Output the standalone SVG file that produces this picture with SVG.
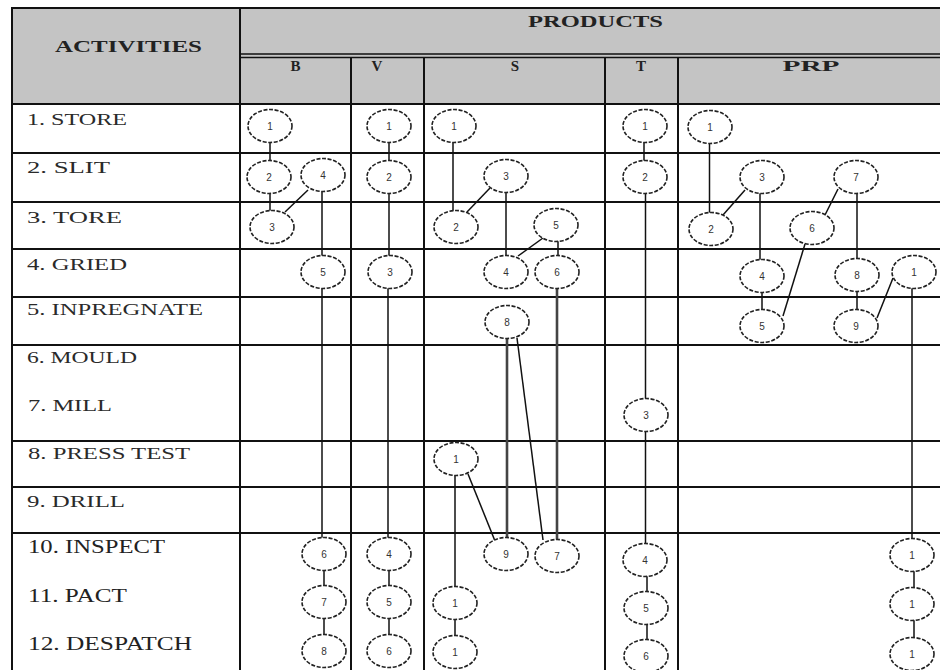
<svg xmlns="http://www.w3.org/2000/svg" width="940" height="670" viewBox="0 0 940 670">
<style>
.grid{stroke:#111;stroke-width:2;fill:none}
.thin{stroke:#111;stroke-width:1.3;fill:none}
.hdr{font-family:"Liberation Serif","Times New Roman",serif;font-weight:bold;fill:#222}
.act{font-family:"Liberation Serif","Times New Roman",serif;fill:#2a2a2a;font-size:16px}
.actb{font-family:"Liberation Serif","Times New Roman",serif;fill:#222;font-size:19px}
.node ellipse{fill:#fff;stroke:#222;stroke-width:1.6;stroke-dasharray:4 1.6}
.node text{font-family:"Liberation Sans",Arial,sans-serif;font-size:10px;fill:#333;text-anchor:middle}
.conn line{stroke:#111;stroke-width:1.5}
.conn line.dbl{stroke:#444;stroke-width:2.6}
</style>
<rect x="0" y="0" width="940" height="670" fill="#fff"/>
<rect x="12" y="8" width="928" height="96" fill="#c4c4c4"/>
<g id="table">
<line class="grid" x1="12" y1="8" x2="940" y2="8"/>
<line class="grid" x1="12" y1="7" x2="12" y2="670"/>
<line class="grid" x1="240" y1="8" x2="240" y2="670"/>
<line class="thin" x1="240" y1="54" x2="940" y2="54"/>
<line class="thin" x1="240" y1="57.5" x2="940" y2="57.5"/>
<line class="grid" x1="12" y1="104" x2="940" y2="104"/>
<line class="grid" x1="351" y1="57" x2="351" y2="670"/>
<line class="grid" x1="424" y1="57" x2="424" y2="670"/>
<line class="grid" x1="605" y1="57" x2="605" y2="670"/>
<line class="grid" x1="678" y1="57" x2="678" y2="670"/>
<line class="grid" x1="12" y1="153" x2="940" y2="153"/>
<line class="grid" x1="12" y1="202" x2="940" y2="202"/>
<line class="grid" x1="12" y1="249" x2="940" y2="249"/>
<line class="grid" x1="12" y1="297" x2="940" y2="297"/>
<line class="grid" x1="12" y1="345" x2="940" y2="345"/>
<line class="grid" x1="12" y1="441" x2="940" y2="441"/>
<line class="grid" x1="12" y1="487" x2="940" y2="487"/>
<line class="grid" x1="12" y1="533" x2="940" y2="533"/>
</g>
<g id="headers">
<text class="hdr" x="55" y="52" font-size="17" textLength="147" lengthAdjust="spacingAndGlyphs">ACTIVITIES</text>
<text class="hdr" x="528" y="27" font-size="17" textLength="135" lengthAdjust="spacingAndGlyphs">PRODUCTS</text>
<text class="hdr" x="295.5" y="71" font-size="15" text-anchor="middle">B</text>
<text class="hdr" x="377" y="71" font-size="15" text-anchor="middle">V</text>
<text class="hdr" x="515" y="71" font-size="15" text-anchor="middle">S</text>
<text class="hdr" x="641" y="71" font-size="15" text-anchor="middle">T</text>
<text class="hdr" x="811" y="71" font-size="15" text-anchor="middle" textLength="57" lengthAdjust="spacingAndGlyphs">PRP</text>
</g>
<g id="activities">
<text class="act" x="27" y="125" textLength="100" lengthAdjust="spacingAndGlyphs">1. STORE</text>
<text class="act" x="27" y="173" textLength="83" lengthAdjust="spacingAndGlyphs">2. SLIT</text>
<text class="act" x="27" y="223" textLength="95" lengthAdjust="spacingAndGlyphs">3. TORE</text>
<text class="act" x="27" y="270" textLength="100" lengthAdjust="spacingAndGlyphs">4. GRIED</text>
<text class="act" x="27" y="315" textLength="176" lengthAdjust="spacingAndGlyphs">5. INPREGNATE</text>
<text class="act" x="27" y="363" textLength="110" lengthAdjust="spacingAndGlyphs">6. MOULD</text>
<text class="act" x="28" y="411" textLength="84" lengthAdjust="spacingAndGlyphs">7. MILL</text>
<text class="act" x="28" y="459" textLength="162" lengthAdjust="spacingAndGlyphs">8. PRESS TEST</text>
<text class="act" x="27" y="507" textLength="98" lengthAdjust="spacingAndGlyphs">9. DRILL</text>
<text class="actb" x="28" y="553" textLength="137" lengthAdjust="spacingAndGlyphs">10. INSPECT</text>
<text class="actb" x="28" y="602" textLength="99" lengthAdjust="spacingAndGlyphs">11. PACT</text>
<text class="actb" x="28" y="650" textLength="164" lengthAdjust="spacingAndGlyphs">12. DESPATCH</text>
</g>
<g id="connectors" class="conn">
<line x1="270" y1="142" x2="270" y2="161"/>
<line x1="270" y1="193" x2="270" y2="211"/>
<line x1="308" y1="190" x2="285" y2="212"/>
<line x1="322" y1="191" x2="322" y2="256"/>
<line x1="322" y1="288" x2="322" y2="538"/>
<line x1="324" y1="570" x2="324" y2="586"/>
<line x1="324" y1="618" x2="324" y2="635"/>
<line x1="389" y1="142" x2="389" y2="161"/>
<line x1="389" y1="193" x2="389" y2="256"/>
<line x1="388" y1="288" x2="388" y2="538"/>
<line x1="389" y1="570" x2="389" y2="586"/>
<line x1="389" y1="618" x2="389" y2="635"/>
<line x1="453" y1="142" x2="453" y2="211"/>
<line x1="490" y1="188" x2="467" y2="212"/>
<line x1="506" y1="192" x2="506" y2="256"/>
<line x1="543" y1="238" x2="518" y2="256"/>
<line x1="558" y1="241" x2="558" y2="256"/>
<line class="dbl" x1="557" y1="288" x2="557" y2="540"/>
<line class="dbl" x1="507" y1="338" x2="507" y2="538"/>
<line x1="517" y1="338" x2="543" y2="540"/>
<line x1="455" y1="475" x2="455" y2="587"/>
<line x1="468" y1="474" x2="495" y2="541"/>
<line x1="455" y1="619" x2="455" y2="636"/>
<line x1="644" y1="142" x2="644" y2="161"/>
<line x1="645.5" y1="193" x2="645.5" y2="400"/>
<line x1="645.5" y1="431" x2="645.5" y2="544"/>
<line x1="647" y1="576" x2="647" y2="592"/>
<line x1="647" y1="624" x2="647" y2="640"/>
<line x1="709.5" y1="143" x2="709.5" y2="213"/>
<line x1="745" y1="190" x2="723" y2="215"/>
<line x1="760" y1="193" x2="760" y2="260"/>
<line x1="762" y1="292" x2="762" y2="310"/>
<line x1="838" y1="189" x2="825" y2="215"/>
<line x1="805" y1="244" x2="783" y2="316"/>
<line x1="857" y1="193" x2="857" y2="259"/>
<line x1="857" y1="291" x2="857" y2="310"/>
<line x1="893" y1="278" x2="877" y2="318"/>
<line x1="912" y1="288" x2="912" y2="539"/>
<line x1="914" y1="571" x2="914" y2="588"/>
<line x1="914" y1="620" x2="914" y2="638"/>
</g>
<g id="B1" class="node"><ellipse cx="270" cy="126" rx="22" ry="16.5"/><text x="270" y="130">1</text></g>
<g id="B2" class="node"><ellipse cx="269" cy="177" rx="22" ry="16.5"/><text x="269" y="181">2</text></g>
<g id="B3" class="node"><ellipse cx="272" cy="227" rx="22" ry="16.5"/><text x="272" y="231">3</text></g>
<g id="B4" class="node"><ellipse cx="323" cy="175" rx="22" ry="16.5"/><text x="323" y="179" fill="#888">4</text></g>
<g id="B5" class="node"><ellipse cx="323" cy="272" rx="22" ry="16.5"/><text x="323" y="276">5</text></g>
<g id="B6" class="node"><ellipse cx="324" cy="554" rx="22" ry="16.5"/><text x="324" y="558">6</text></g>
<g id="B7" class="node"><ellipse cx="324" cy="602" rx="22" ry="16.5"/><text x="324" y="606">7</text></g>
<g id="B8" class="node"><ellipse cx="324" cy="651" rx="22" ry="16.5"/><text x="324" y="655">8</text></g>
<g id="V1" class="node"><ellipse cx="389" cy="126" rx="22" ry="16.5"/><text x="389" y="130">1</text></g>
<g id="V2" class="node"><ellipse cx="389" cy="177" rx="22" ry="16.5"/><text x="389" y="181">2</text></g>
<g id="V3" class="node"><ellipse cx="390" cy="272" rx="22" ry="16.5"/><text x="390" y="276">3</text></g>
<g id="V4" class="node"><ellipse cx="389" cy="554" rx="22" ry="16.5"/><text x="389" y="558">4</text></g>
<g id="V5" class="node"><ellipse cx="389" cy="602" rx="22" ry="16.5"/><text x="389" y="606">5</text></g>
<g id="V6" class="node"><ellipse cx="389" cy="651" rx="22" ry="16.5"/><text x="389" y="655">6</text></g>
<g id="S1" class="node"><ellipse cx="454" cy="126" rx="22" ry="16.5"/><text x="454" y="130">1</text></g>
<g id="S3" class="node"><ellipse cx="506" cy="176" rx="22" ry="16.5"/><text x="506" y="180">3</text></g>
<g id="S2" class="node"><ellipse cx="456" cy="227" rx="22" ry="16.5"/><text x="456" y="231">2</text></g>
<g id="S5" class="node"><ellipse cx="556" cy="225" rx="22" ry="16.5"/><text x="556" y="229">5</text></g>
<g id="S4" class="node"><ellipse cx="506" cy="272" rx="22" ry="16.5"/><text x="506" y="276">4</text></g>
<g id="S6" class="node"><ellipse cx="557" cy="272" rx="22" ry="16.5"/><text x="557" y="276">6</text></g>
<g id="S8" class="node"><ellipse cx="507" cy="322" rx="22" ry="16.5"/><text x="507" y="326">8</text></g>
<g id="S_PT1" class="node"><ellipse cx="456" cy="459" rx="22" ry="16.5"/><text x="456" y="463">1</text></g>
<g id="S9" class="node"><ellipse cx="506" cy="554" rx="22" ry="16.5"/><text x="506" y="558">9</text></g>
<g id="S7" class="node"><ellipse cx="557" cy="556" rx="22" ry="16.5"/><text x="557" y="560">7</text></g>
<g id="S_PA1" class="node"><ellipse cx="455" cy="603" rx="22" ry="16.5"/><text x="455" y="607">1</text></g>
<g id="S_DE1" class="node"><ellipse cx="455" cy="652" rx="22" ry="16.5"/><text x="455" y="656">1</text></g>
<g id="T1" class="node"><ellipse cx="645" cy="126" rx="22" ry="16.5"/><text x="645" y="130">1</text></g>
<g id="T2" class="node"><ellipse cx="645" cy="177" rx="22" ry="16.5"/><text x="645" y="181">2</text></g>
<g id="T3" class="node"><ellipse cx="646" cy="415" rx="22" ry="16.5"/><text x="646" y="419">3</text></g>
<g id="T4" class="node"><ellipse cx="645" cy="560" rx="22" ry="16.5"/><text x="645" y="564">4</text></g>
<g id="T5" class="node"><ellipse cx="646" cy="608" rx="22" ry="16.5"/><text x="646" y="612">5</text></g>
<g id="T6" class="node"><ellipse cx="646" cy="656" rx="22" ry="16.5"/><text x="646" y="660">6</text></g>
<g id="P1" class="node"><ellipse cx="710" cy="127" rx="22" ry="16.5"/><text x="710" y="131">1</text></g>
<g id="P3" class="node"><ellipse cx="762" cy="177" rx="22" ry="16.5"/><text x="762" y="181">3</text></g>
<g id="P7" class="node"><ellipse cx="856" cy="177" rx="22" ry="16.5"/><text x="856" y="181" fill="#999">7</text></g>
<g id="P2" class="node"><ellipse cx="711" cy="229" rx="22" ry="16.5"/><text x="711" y="233">2</text></g>
<g id="P6" class="node"><ellipse cx="812" cy="228" rx="22" ry="16.5"/><text x="812" y="232">6</text></g>
<g id="P4" class="node"><ellipse cx="762" cy="276" rx="22" ry="16.5"/><text x="762" y="280">4</text></g>
<g id="P8" class="node"><ellipse cx="857" cy="275" rx="22" ry="16.5"/><text x="857" y="279">8</text></g>
<g id="P1b" class="node"><ellipse cx="914" cy="272" rx="22" ry="16.5"/><text x="914" y="276">1</text></g>
<g id="P5" class="node"><ellipse cx="762" cy="326" rx="22" ry="16.5"/><text x="762" y="330">5</text></g>
<g id="P9" class="node"><ellipse cx="856" cy="326" rx="22" ry="16.5"/><text x="856" y="330">9</text></g>
<g id="P10" class="node"><ellipse cx="912" cy="555" rx="22" ry="16.5"/><text x="912" y="559">1</text></g>
<g id="P11" class="node"><ellipse cx="912" cy="604" rx="22" ry="16.5"/><text x="912" y="608">1</text></g>
<g id="P12" class="node"><ellipse cx="912" cy="654" rx="22" ry="16.5"/><text x="912" y="658">1</text></g>
</svg>
